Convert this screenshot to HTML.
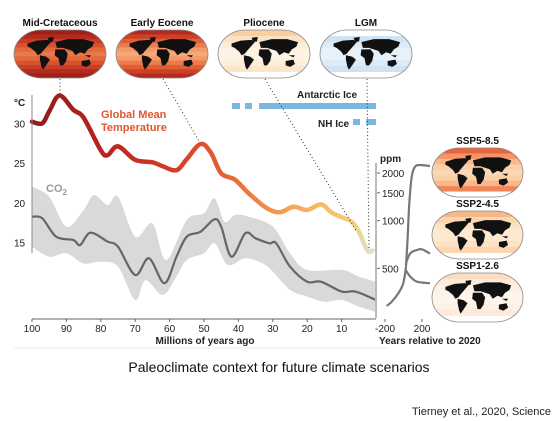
<!DOCTYPE html>
<html><head><meta charset="utf-8"><style>
html,body{margin:0;padding:0;background:#fff}
svg{display:block;font-family:"Liberation Sans",sans-serif}
</style></head><body>
<svg id="fig" width="559" height="421" viewBox="0 0 559 421" xmlns="http://www.w3.org/2000/svg">
<defs>
<linearGradient id="tgrad" gradientUnits="userSpaceOnUse" x1="32" y1="0" x2="376" y2="0">
<stop offset="0" stop-color="#8e1a1e"/><stop offset="0.2" stop-color="#b8221f"/><stop offset="0.45" stop-color="#d8432a"/><stop offset="0.6" stop-color="#e8703a"/><stop offset="0.75" stop-color="#f5a558"/><stop offset="0.93" stop-color="#f6cf78"/><stop offset="1" stop-color="#cfe8e2"/>
</linearGradient>
<g id="land">
<path d="M8,12 L20,8 L34,7 L38,10 L33,16 L28,22 L25,26 L21,28 L18,23 L12,18 L8,16 Z M34,4 L42,3 L41,9 L36,10Z M24,28 L32,30 L37,34 L32,42 L28,48 L26,44 L24,34 Z M44,10 L60,6 L80,6 L94,10 L92,16 L86,20 L82,26 L76,24 L70,28 L66,22 L60,20 L54,18 L46,18 Z M44,20 L56,20 L60,26 L58,36 L54,42 L50,42 L48,32 L43,28 Z M78,36 L88,34 L90,40 L84,44 L78,42 Z M82,28 L90,28 L88,31 Z" fill="#111"/>
</g>
</defs>
<g id="maps"></g>
<g id="chart"></g>
<text x="279" y="372" text-anchor="middle" font-size="14" fill="#111">Paleoclimate context for future climate scenarios</text>
<text x="551" y="415" text-anchor="end" font-size="11" fill="#222">Tierney et al., 2020, Science</text>
<line x1="14" y1="348" x2="390" y2="348" stroke="#eee" stroke-width="1"/>
</svg>
<script>
const NS="http://www.w3.org/2000/svg";
// ---- data ----
const tempAges=[100,97,95,92,88,85,80,78,75,70,65,62,58,55,51,48,45,41,37,32,28,24,20,16,13,10,7,5,2.5,1];
const tempValues=[30.2,30,31.5,33.5,31.7,30.7,26.6,26,27.1,25.4,25.1,24.6,24.1,25.5,27.4,26.3,23.7,22.9,21.2,19.4,18.8,19.5,19.1,19.8,18.8,18.2,17.6,16.4,14,14];
const co2Ages=[100,97,93,88,86,83,78,75,70,66,61.5,58,55,51,47,45,42,38,35,31,29,25,20,16,10,6,0];
const co2Values=[1060,1035,793,755,702,840,737,685,454,579,403,593,793,852,1020,916,593,833,774,720,720,513,412,412,357,357,316];
const bandUpAges=[100,95,90,85,82,78,75,70,65,61,55,50,47,44,41,37,30,25,20,10,5,0];
const bandUpValues=[1639,1417,916,1168,1453,1256,1417,793,963,565,1010,1113,1385,986,1086,1060,916,623,489,489,444,412];
const bandLoAges=[100,95,90,85,80,75,70,67,62,58,55,50,47,44,42,38,33,30,25,20,15,10,5,0];
const bandLoValues=[685,593,623,538,551,513,316,422,340,444,565,623,720,551,525,579,538,477,366,332,308,316,287,266];
const sspCommonYears=[-182,-128,-56,-2,27];
const sspCommonPpm=[290,308,348,403,513];
const ssp585Years=[27,45,63,89,124,178,286];
const ssp585Ppm=[513,793,1288,1895,2190,2245,2215];
const ssp245Years=[27,73,145,200,286];
const ssp245Ppm=[540,623,653,660,620];
const ssp126Years=[27,73,145,286];
const ssp126Ppm=[485,444,412,403];
const tempTicks=[30,25,20,15];
const ageTicks=[100,90,80,70,60,50,40,30,20,10];
const ppmTicks=[2000,1500,1000,500];
const yearTicks=[-200,200];
// ---- scales ----
const xA=a=>32+(100-a)*3.44;
const yT=t=>123.3+(30-t)*7.95;
const yP=p=>220.7-Math.log2(p/1000)*47.7;
const xY=y=>403.5+y*0.0925;
function mk(tag,attrs,parent){const e=document.createElementNS(NS,tag);for(const k in attrs)e.setAttribute(k,attrs[k]);(parent||chart).appendChild(e);return e;}
function smooth(pts){let d="M"+pts[0][0].toFixed(1)+","+pts[0][1].toFixed(1);
for(let i=0;i<pts.length-1;i++){const p0=pts[Math.max(i-1,0)],p1=pts[i],p2=pts[i+1],p3=pts[Math.min(i+2,pts.length-1)];
const c1=[p1[0]+(p2[0]-p0[0])/6,p1[1]+(p2[1]-p0[1])/6],c2=[p2[0]-(p3[0]-p1[0])/6,p2[1]-(p3[1]-p1[1])/6];
d+=` C${c1[0].toFixed(1)},${c1[1].toFixed(1)} ${c2[0].toFixed(1)},${c2[1].toFixed(1)} ${p2[0].toFixed(1)},${p2[1].toFixed(1)}`;}return d;}
const chart=document.getElementById('chart');const maps=document.getElementById('maps');
// band
const up=bandUpAges.map((a,i)=>[xA(a),yP(bandUpValues[i])]);
const lo=bandLoAges.map((a,i)=>[xA(a),yP(bandLoValues[i])]).reverse();
const loD=smooth(lo);
const bd=smooth(up)+" L"+lo[0][0].toFixed(1)+","+lo[0][1].toFixed(1)+loD.slice(loD.indexOf(" C"))+"Z";
const band=mk('path',{d:bd,fill:'#d9d9d9'});


const co2=mk('path',{d:smooth(co2Ages.map((a,i)=>[xA(a),yP(co2Values[i])])),fill:'none',stroke:'#666',"stroke-width":2.2});


const tl=mk('path',{d:smooth(tempAges.map((a,i)=>[xA(a),yT(tempValues[i])])),fill:'none',stroke:'url(#tgrad)',"stroke-width":4.5,"stroke-linecap":"round"});


// axes
let ax=mk('line',{x1:32,y1:95,x2:32,y2:253,stroke:'#888','stroke-width':1});


mk('text',{x:14,y:106,'font-size':10,'font-weight':'bold',fill:'#222'}).textContent='°C';
tempTicks.forEach(t=>{const e=mk('text',{x:14,y:yT(t)+4,'font-size':10,fill:'#222'});e.textContent=t;

});
ax=mk('line',{x1:32,y1:319,x2:376,y2:319,stroke:'#666','stroke-width':1});


ageTicks.forEach(a=>{mk('line',{x1:xA(a),y1:319,x2:xA(a),y2:322,stroke:'#666'});const e=mk('text',{x:xA(a),y:332,'font-size':10,'text-anchor':'middle',fill:'#222'});e.textContent=a;

});
let t=mk('text',{x:205,y:344,'font-size':10,'font-weight':'bold','text-anchor':'middle',fill:'#222'});t.textContent='Millions of years ago';


// ppm axis
ax=mk('line',{x1:376,y1:163,x2:376,y2:318,stroke:'#bbb','stroke-width':2});


mk('text',{x:380,y:162,'font-size':10,'font-weight':'bold',fill:'#222'}).textContent='ppm';
ppmTicks.forEach(p=>{mk('line',{x1:377,y1:yP(p),x2:380,y2:yP(p),stroke:'#666'});const e=mk('text',{x:382,y:yP(p)+4,'font-size':10,fill:'#222'});e.textContent=p;

});
yearTicks.forEach(y=>{mk('line',{x1:xY(y),y1:319,x2:xY(y),y2:322,stroke:'#666'});const e=mk('text',{x:xY(y),y:332,'font-size':10,'text-anchor':'middle',fill:'#222'});e.textContent=y;

});
t=mk('text',{x:379,y:344,'font-size':10,'font-weight':'bold',fill:'#222'});t.textContent='Years relative to 2020';


// scenarios
function scen(ys,ps,name){const e=mk('path',{d:smooth(ys.map((y,i)=>[xY(y),yP(ps[i])])),fill:'none',stroke:'#777','stroke-width':2.2});

}
scen(sspCommonYears,sspCommonPpm,'historical-co2-line');
scen(ssp585Years,ssp585Ppm,'ssp585-line');
scen(ssp245Years,ssp245Ppm,'ssp245-line');
scen(ssp126Years,ssp126Ppm,'ssp126-line');
// labels
t=mk('text',{x:101,y:118,'font-size':11,'font-weight':'bold',fill:'#e0562e'});t.innerHTML='Global Mean<tspan x="101" dy="13">Temperature</tspan>';


t=mk('text',{x:46,y:192,'font-size':11,'font-weight':'bold',fill:'#999'});t.innerHTML='CO<tspan font-size="8" dy="3">2</tspan>';


// ice bars
[[232,240],[245,252],[259,376]].forEach(s=>{const e=mk('rect',{x:s[0],y:103,width:s[1]-s[0],height:6,fill:'#7db7de'});

});
[[353,360],[366,376]].forEach(s=>{const e=mk('rect',{x:s[0],y:119,width:s[1]-s[0],height:6,fill:'#7db7de'});

});
t=mk('text',{x:297,y:98,'font-size':10,'font-weight':'bold',fill:'#222'});t.textContent='Antarctic Ice';


t=mk('text',{x:318,y:127,'font-size':10,'font-weight':'bold',fill:'#222'});t.textContent='NH Ice';


// dotted connectors
[[60,79,60,96],[163,79,199,141],[265,79,357,232],[367,79,369,250]].forEach(l=>{const e=mk('line',{x1:l[0],y1:l[1],x2:l[2],y2:l[3],stroke:'#333','stroke-width':1,'stroke-dasharray':'1,2.5'});

});
// maps
function map(x,y,w,h,cols,title,name){const g=mk('g',{},maps);
const id='c'+name;const cp=mk('clipPath',{id:id},g);mk('rect',{x:x,y:y,width:w,height:h,rx:w*0.3,ry:h*0.5},cp);
const inner=mk('g',{'clip-path':`url(#${id})`},g);const n=cols.length;
cols.forEach((c,i)=>mk('rect',{x:x,y:y+i*h/n,width:w,height:h/n+0.5,fill:c},inner));
mk('use',{href:'#land',transform:`translate(${x+w*0.08},${y+h*0.1}) scale(${w*0.84/100},${h*0.82/54})`},inner);
mk('rect',{x:x,y:y,width:w,height:h,rx:w*0.3,ry:h*0.5,fill:'none',stroke:'#888','stroke-width':0.8},g);
const tt=mk('text',{x:x+w/2,y:y-4,'font-size':10,'font-weight':'bold','text-anchor':'middle',fill:'#111'},g);tt.textContent=title;}
map(14,30,92,48,['#9e2018','#b32a1e','#c93c26','#d8522e','#e26a3c','#e67a48','#e26a3c','#d8522e','#c93c26','#b32a1e','#a02018'],'Mid-Cretaceous','map-mid-cretaceous');
map(116,30,92,48,['#b32a1e','#cc4026','#e05e36','#ec7c4c','#f49a68','#f6a878','#f49a68','#ec7c4c','#e05e36','#cc4026','#b32a1e'],'Early Eocene','map-early-eocene');
map(218,30,92,48,['#f7cfa0','#fbe2c4','#fdeedc','#fdf2e4','#fdf2e4','#fdeedc','#fbe6cc','#ffffff'],'Pliocene','map-pliocene');
map(320,30,92,48,['#ffffff','#cfe3f3','#dcebf7','#e6f1fa','#e6f1fa','#dcebf7','#cfe3f3','#ffffff'],'LGM','map-lgm');
map(432,148,91,49,['#e8643a','#f49468','#f8b88a','#fbd0a8','#fbd8b4','#fbd0a8','#f8b88a','#f0855a','#ffffff'],'SSP5-8.5','map-ssp585');
map(432,211,91,48,['#f6b888','#fbd6b0','#fde2c6','#fde8d0','#fde8d0','#fde2c6','#fbd6b0','#ffffff'],'SSP2-4.5','map-ssp245');
map(432,273,91,49,['#fbdcc0','#fdeada','#fdf1e6','#fdf4ea','#fdf4ea','#fdf1e6','#fdeada','#ffffff'],'SSP1-2.6','map-ssp126');
</script>
</body></html>
